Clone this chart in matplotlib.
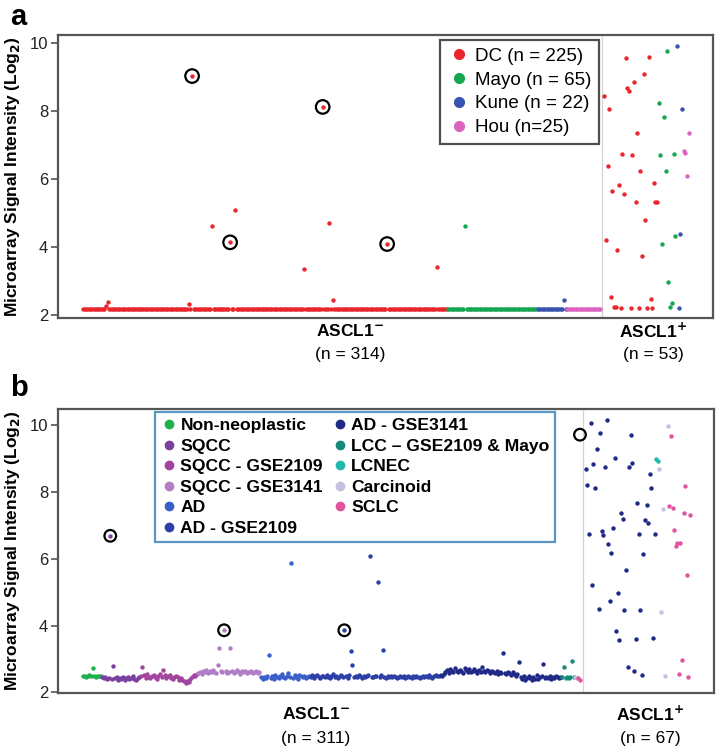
import matplotlib.pyplot as plt
from matplotlib.lines import Line2D
import numpy as np

plt.rcParams['font.family'] = ['Liberation Sans', 'DejaVu Sans']

# ---------------- panel a : four data sets ----------------
a_labels = ['DC (n = 225)', 'Mayo (n = 65)', 'Kune (n = 22)', 'Hou (n=25)']
a_colors = ['#e8262b', '#15a64f', '#3853b0', '#dc62c0']

# ASCL1- samples, in plotting order; almost all sit on the floor value
a_floor = 2.17
a_neg_n = [221, 54, 18, 21]
a_neg_out_idx = [14, 15, 64, 66, 78, 89, 92, 134, 145, 149, 151, 184, 214, 231, 291]
a_neg_out_val = [2.26, 2.36, 2.31, 9.03, 4.60, 4.13, 5.09, 3.35, 8.12, 4.69, 2.44, 4.08, 3.40, 4.61, 2.43]
a_neg_circled = [66, 89, 145, 184]

# ASCL1+ samples (position, value) per data set
a_pos_x = [
    [328.3, 342.2, 339.2, 333.3, 329.3, 330.3, 315.2, 318.2, 335.3, 326.1, 332.1, 317.4, 337.1,
     345.4, 324.4, 320.2, 327.3, 334.3, 346.2, 347.4, 340.2, 316.4, 323.2, 338.2, 319.4, 343.4,
     321.2, 322.4, 325.5, 331.3, 336.1, 341.2, 344.2],
    [353.1, 348.2, 351.3, 349.1, 357.3, 352.5, 358.3, 350.4, 354.1, 356.3, 355.1],
    [359.3, 362.5, 361.3, 360.4],
    [366.4, 363.3, 364.3, 365.1],
]
a_pos_y = [
    [9.57, 9.58, 9.08, 8.85, 8.68, 8.58, 8.45, 8.06, 7.34, 6.72, 6.69, 6.39, 6.22,
     5.88, 5.82, 5.64, 5.55, 5.33, 5.33, 5.33, 4.78, 4.20, 3.91, 3.73, 2.53, 2.46,
     2.23, 2.23, 2.18, 2.18, 2.18, 2.18, 2.18],
    [9.77, 8.24, 7.82, 6.69, 6.72, 6.22, 4.33, 4.09, 2.97, 2.35, 2.23],
    [9.93, 8.06, 4.38, 2.19],
    [7.34, 6.83, 6.76, 6.09],
]

# ---------------- panel b : histologic groups ----------------
b_labels = ['Non-neoplastic', 'SQCC', 'SQCC - GSE2109', 'SQCC - GSE3141', 'AD',
            'AD - GSE2109', 'AD - GSE3141', 'LCC \u2013 GSE2109 & Mayo', 'LCNEC',
            'Carcinoid', 'SCLC']
b_colors = ['#1db04b', '#7b3f9e', '#a0449e', '#b07ec6', '#3a5fc8',
            '#2c3fa6', '#1e2a86', '#138a7a', '#22b8ae', '#c4c2e0', '#e0559e']

# ASCL1- samples, in plotting order, one list per group
b_neg = [
    [2.48, 2.50, 2.47, 2.49, 2.51, 2.48, 2.72, 2.50, 2.47, 2.49, 2.50, 2.48],
    [2.46, 2.42, 2.45, 2.39, 2.44, 6.69, 2.41, 2.80, 2.43, 2.47, 2.38, 2.44,
     2.40, 2.46, 2.36, 2.42, 2.45, 2.39, 2.43, 2.48, 2.41, 2.37, 2.44, 2.46],
    [2.48, 2.77, 2.52, 2.44, 2.55, 2.47, 2.42, 2.50, 2.53, 2.45, 2.40, 2.49,
     2.54, 2.46, 2.67, 2.51, 2.43, 2.48, 2.52, 2.44, 2.41, 2.47, 2.50, 2.45,
     2.38, 2.42, 2.36, 2.33, 2.28, 2.35, 2.31, 2.40, 2.45, 2.52, 2.50, 2.56],
    [2.58, 2.62, 2.55, 2.64, 2.60, 2.66, 2.59, 2.63, 2.61, 2.67, 2.62, 2.58, 2.82,
     3.33, 2.65, 2.60, 3.86, 2.63, 2.57, 2.61, 3.33, 2.64, 2.59, 2.62, 2.66, 2.60,
     2.56, 2.63, 2.61, 2.65, 2.58, 2.62, 2.60, 2.64, 2.57, 2.61, 2.63, 2.59, 2.62],
    [2.45, 2.40, 2.47, 2.43, 2.50, 3.11, 2.44, 2.48, 2.41, 2.52, 2.46, 2.43, 2.49,
     2.55, 2.47, 2.42, 2.50, 2.58, 2.46, 5.88, 2.44, 2.51, 2.47, 2.40, 2.53, 2.48,
     2.45, 2.50, 2.42, 2.47, 2.49],
    [2.47, 2.51, 2.44, 2.49, 2.53, 2.46, 2.42, 2.50, 2.48, 2.45,
     2.52, 2.47, 2.43, 2.49, 2.55, 2.46, 2.50, 2.44, 2.48, 2.51,
     2.46, 3.86, 2.49, 2.44, 2.52, 3.25, 2.82, 2.47, 2.50, 2.45,
     2.53, 2.48, 2.44, 2.50, 2.46, 2.49, 2.52, 6.09, 2.47, 2.45,
     2.50, 2.48, 5.30, 2.46, 2.51, 3.26, 2.47, 2.44, 2.49, 2.46,
     2.48, 2.45, 2.50, 2.47, 2.43, 2.46, 2.49, 2.45, 2.48, 2.44,
     2.47, 2.50, 2.46, 2.43, 2.48, 2.45, 2.49, 2.46, 2.44, 2.47,
     2.50, 2.46, 2.48, 2.45, 2.51, 2.47, 2.44, 2.49, 2.52, 2.48, 2.50],
    [2.52, 2.50, 2.55,
     2.62, 2.66, 2.58, 2.70, 2.64, 2.60, 2.72, 2.65, 2.61, 2.68,
     2.63, 2.59, 2.74, 2.66, 2.62, 2.69, 2.60, 2.65, 2.71, 2.63,
     2.58, 2.67, 2.62, 2.76, 2.64, 2.60, 2.68, 2.63, 2.57, 2.65,
     2.61, 2.58, 2.63, 2.56, 2.60, 2.57, 3.17,
     2.59, 2.55, 2.62, 2.58, 2.53, 2.60, 2.56, 2.50, 2.54, 2.92,
     2.45, 2.40, 2.48, 2.38, 2.44, 2.50, 2.42, 2.37, 2.46, 2.41, 2.52, 2.39, 2.45, 2.48,
     2.86, 2.42, 2.47, 2.44, 2.50, 2.41, 2.46, 2.43, 2.48, 2.45, 2.42, 2.47],
    [2.45, 2.77, 2.43, 2.47, 2.44, 2.46, 2.93, 2.45],
    [],
    [2.46, 2.44],
    [2.43, 2.38],
]
b_neg_circled = [17, 88, 163]

# ASCL1+ samples (position, value) per group
b_pos_x = {
    6: [316.7, 326.7, 322.5, 341.7, 320.5, 318.3, 313.6, 325.6, 331.9, 342.7, 340.6, 353.7,
        314.6, 319.6, 354.5, 345.6, 351.6, 335.6, 336.7, 350.6, 352.6, 315.7, 323.6, 324.6,
        330.4, 346.7, 356.8, 327.7, 329.6, 349.5, 338.7, 317.5, 333.7, 328.8, 321.7, 337.7,
        347.7, 332.5, 334.6, 345.0, 355.8, 339.8, 343.7, 348.7],
    8: [357.4, 358.5],
    9: [364.8, 359.5, 361.6, 360.6, 363.3],
    10: [366.8, 375.7, 365.7, 367.8, 374.7, 378.7, 368.7, 369.9, 370.7, 372.4, 376.8,
         373.7, 371.8, 377.6],
}
b_pos_y = {
    6: [10.07, 10.17, 9.78, 9.72, 9.28, 8.85, 8.68, 8.75, 9.01, 8.88, 8.74, 8.54,
        8.20, 8.11, 8.12, 7.67, 7.61, 7.36, 7.20, 7.15, 7.06, 6.73, 6.84, 6.72,
        6.91, 6.74, 6.75, 6.43, 6.17, 6.14, 5.68, 5.21, 4.99, 4.73, 4.51, 4.46,
        4.46, 3.83, 3.58, 3.61, 3.62, 2.75, 2.64, 2.51],
    8: [9.00, 8.93],
    9: [9.97, 8.68, 7.49, 4.40, 2.49],
    10: [9.67, 8.18, 7.58, 7.53, 7.38, 7.32, 6.87, 6.38, 6.46, 6.48, 5.52,
         2.97, 2.55, 2.47],
}
b_open_circle = (310.0, 9.72)

DOT = 10
RING = 95
SPINE = '#555555'


def style_axes(ax, ylim, xlim, sep):
    ax.set_xlim(*xlim)
    ax.set_ylim(*ylim)
    ax.axvline(sep, color='#d4d4d4', lw=0.9, zorder=0)
    ax.set_xticks([])
    ax.set_yticks([2, 4, 6, 8, 10])
    ax.tick_params(axis='y', length=5, width=1.2, color=SPINE, labelsize=12,
                   labelcolor='#222222', pad=2)
    for s in ax.spines.values():
        s.set_color(SPINE)
        s.set_linewidth(1.6)
    ax.set_ylabel('Microarray Signal Intensity (Log$_\\mathbf{2}$)', fontsize=12.5,
                  fontweight='bold')
    ax.yaxis.set_label_coords(-0.055, 0.5)


def group_labels(ax, xneg, xpos, nneg, npos, y1, y2):
    tr = ax.get_xaxis_transform()
    ax.text(xneg, y1, 'ASCL1$^{\\mathbf{-}}$', transform=tr, ha='center', va='center',
            fontsize=12.5, fontweight='bold')
    ax.text(xpos, y1, 'ASCL1$^{\\mathbf{+}}$', transform=tr, ha='center', va='center',
            fontsize=12.5, fontweight='bold')
    ax.text(xneg, y2, '(n = %d)' % nneg, transform=tr, ha='center', va='center',
            fontsize=12.5)
    ax.text(xpos, y2, '(n = %d)' % npos, transform=tr, ha='center', va='center',
            fontsize=12.5)


fig = plt.figure(figsize=(7.22, 7.5), dpi=100)

# ---------------- panel a ----------------
ax1 = fig.add_axes([58 / 722, 1 - 318 / 750, 655 / 722, 283 / 750])
style_axes(ax1, (1.90, 10.24), (-15.1, 381.1), 314)

a_neg_vals = np.full(sum(a_neg_n), a_floor)
a_neg_vals[a_neg_out_idx] = a_neg_out_val
start = 0
for k, n in enumerate(a_neg_n):
    xs = np.arange(start, start + n)
    ax1.scatter(xs, a_neg_vals[start:start + n], s=DOT, color=a_colors[k], lw=0, zorder=3)
    start += n
for k in range(4):
    ax1.scatter(a_pos_x[k], a_pos_y[k], s=DOT, color=a_colors[k], lw=0, zorder=3)
ax1.scatter(a_neg_circled, a_neg_vals[a_neg_circled], s=RING, facecolors='none',
            edgecolors='black', linewidths=1.6, zorder=4)

handles = [Line2D([], [], ls='', marker='o', ms=7, mfc=c, mec=c) for c in a_colors]
leg = ax1.legend(handles, a_labels, loc='upper left', bbox_to_anchor=(0.583, 0.982),
                 borderaxespad=0, fontsize=13.5, frameon=True, fancybox=False,
                 handletextpad=0.3, handlelength=1.2, borderpad=0.4, labelspacing=0.36)
leg.get_frame().set_edgecolor('#222222')
leg.get_frame().set_linewidth(1.6)

group_labels(ax1, 161.5, 344.8, 314, 53, -0.045, -0.13)
fig.text(10 / 722, 1 - 3 / 750, 'a', fontsize=21, fontweight='bold', va='top', ha='left')

# ---------------- panel b ----------------
ax2 = fig.add_axes([58 / 722, 1 - 693 / 750, 656 / 722, 284 / 750])
style_axes(ax2, (1.98, 10.49), (-15.6, 393.6), 311.9)

b_neg_flat = np.concatenate([np.array(v, dtype=float) for v in b_neg])
start = 0
for k, vals in enumerate(b_neg):
    xs = np.arange(start, start + len(vals))
    ax2.scatter(xs, vals, s=DOT, color=b_colors[k], lw=0, zorder=3)
    start += len(vals)
for k in b_pos_x:
    ax2.scatter(b_pos_x[k], b_pos_y[k], s=DOT, color=b_colors[k], lw=0, zorder=3)
ax2.scatter(b_neg_circled, b_neg_flat[b_neg_circled], s=70, facecolors='none',
            edgecolors='black', linewidths=1.6, zorder=4)
ax2.scatter([b_open_circle[0]], [b_open_circle[1]], s=70, facecolors='none',
            edgecolors='black', linewidths=1.6, zorder=4)

handles = [Line2D([], [], ls='', marker='o', ms=6, mfc=c, mec=c) for c in b_colors]
leg = ax2.legend(handles, b_labels, loc='upper left', bbox_to_anchor=(0.148, 0.989),
                 borderaxespad=0, ncol=2, frameon=True, fancybox=False,
                 prop={'weight': 'bold', 'size': 12.6},
                 handletextpad=0.2, handlelength=0.9, borderpad=0.35, labelspacing=0.3,
                 columnspacing=0.5)
leg.get_frame().set_edgecolor('#2f7fb5')
leg.get_frame().set_linewidth(1.6)

group_labels(ax2, 145.4, 353.7, 311, 67, -0.075, -0.16)
fig.text(10 / 722, 1 - 374 / 750, 'b', fontsize=21, fontweight='bold', va='top', ha='left')

fig.savefig('out.png', dpi=100)
